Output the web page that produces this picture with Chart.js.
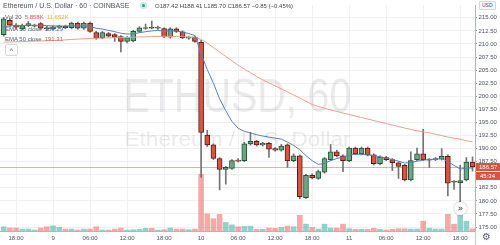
<!DOCTYPE html>
<html>
<head>
<meta charset="utf-8">
<script src="https://cdn.jsdelivr.net/npm/chart.js@4.4.1/dist/chart.umd.min.js"></script>
<style>
  html, body { margin: 0; padding: 0; background: #fff; }
  #wrap { position: relative; width: 500px; height: 245px; overflow: hidden;
          font-family: 'Liberation Sans', Arial, sans-serif; }
  #wrap canvas { position: absolute; left: 0; top: 0; }
  .lg { position: absolute; white-space: nowrap; line-height: 1; color: #5d606b; font-size: 6px; }
  .lg span { margin-left: 3px; }
  #mdot { position: absolute; left: 139.5px; top: 2px; width: 7px; height: 7px; border-radius: 50%;
          background: rgba(38,166,154,0.25); }
  #mdot::after { content: ''; position: absolute; left: 2px; top: 2px; width: 3px; height: 3px;
                 border-radius: 50%; background: #26a69a; }
  #collapse { position: absolute; left: 5px; top: 44px; width: 11px; height: 10px; border: 1px solid #d6d8de;
              border-radius: 2px; background: #fff; font-size: 7px; color: #555; text-align: center; line-height: 12px; }
  #usd { position: absolute; left: 479px; top: 1px; font-size: 5px; color: #50535e; padding: 1px 2px;
         border: 1px solid #d6d8de; border-radius: 1px; background: #f4f6fa; line-height: 1; }
  #gear { position: absolute; left: 482px; top: 232px; font-size: 10px; line-height: 1; color: #5d606b;
          font-family: 'DejaVu Sans', sans-serif; }
  #sep { position: absolute; left: 475px; top: 231px; width: 1px; height: 14px; background: #c9cbd1; }
  #jump { position: absolute; left: 454px; top: 202px; width: 13px; height: 13px; border-radius: 50%;
          background: #fff; box-shadow: 0 0 2px rgba(0,0,0,0.35); font-size: 9px; line-height: 12px;
          text-align: center; color: #333; font-family: 'DejaVu Sans', sans-serif; }
</style>
</head>
<body>
<div id="wrap">
  <canvas id="chart"></canvas>
  <div class="lg" style="left:3px;top:2px;font-size:7px;color:#50535e;">Ethereum / U.S. Dollar · 60 · COINBASE</div>
  <div id="mdot"></div>
  <div class="lg" id="ohlc" style="left:155px;top:2.5px;color:#3d3f45;"></div>
  <div class="lg" style="left:5px;top:14px;">Vol 20<span style="color:#ef5350">5.858K</span><span style="color:#e3b341">11.652K</span></div>
  <div class="lg" style="left:5px;top:25.5px;">EMA 10 close<span id="e10" style="color:#4a6fa5"></span></div>
  <div class="lg" style="left:5px;top:36px;">EMA 50 close<span id="e50" style="color:#b8675a"></span></div>
  <div id="collapse">^</div>
  <div id="usd">USD</div>
  <div id="jump">»</div>
  <div id="sep"></div>
  <div id="gear">⚙</div>
</div>
<script>
// hour index, 0 = 8th 18:00
const hours = Array.from({ length: 77 }, (_, i) => i - 2);

const opens = [
  211.8, 214.5, 213.6, 212.9, 213.5, 213.4, 213.9, 213.1, 212.9, 213.2,
  213.4, 213.1, 214.0, 213.0, 214.0, 212.2, 211.2, 212.0, 211.8, 211.4,
  210.5, 210.6, 212.4, 212.95, 213.15, 213.0, 212.95, 211.3, 212.9, 212.3,
  211.1, 211.3, 210.3, 192.6, 190.7, 188.1, 186.0, 186.2, 187.8, 187.7,
  190.9, 191.4, 190.7, 191.0, 190.0, 189.7, 190.7, 187.7, 188.6, 180.6,
  184.9, 184.3, 185.5, 187.9, 189.4, 188.6, 187.7, 190.1, 189.0, 190.1,
  188.8, 187.1, 188.3, 187.9, 187.3, 186.8, 184.0, 187.9, 189.0, 187.8,
  187.9, 188.0, 188.5, 183.7, 183.5, 184.0, 187.42
];
const closes = [
  214.8, 213.6, 213.2, 213.5, 213.9, 213.6, 213.0, 212.9, 213.3, 213.4,
  213.1, 214.0, 213.0, 214.0, 212.4, 211.1, 212.2, 211.5, 211.3, 210.5,
  211.2, 212.4, 213.1, 213.15, 213.0, 213.15, 211.4, 212.9, 212.4, 211.2,
  211.3, 210.5, 193.1, 190.7, 188.1, 186.0, 186.4, 187.7, 187.6, 190.9,
  191.4, 190.7, 191.0, 189.9, 189.7, 190.5, 187.7, 188.6, 180.8, 184.9,
  184.4, 185.6, 188.1, 189.4, 188.6, 187.7, 190.1, 189.0, 190.1, 188.8,
  187.1, 188.4, 187.9, 187.3, 186.6, 184.0, 187.7, 189.0, 187.9, 187.95,
  188.1, 188.5, 183.4, 183.6, 183.9, 187.42, 186.57
];
const highs = [
  215.1, 214.8, 213.9, 213.8, 214.3, 213.8, 214.1, 213.4, 213.5, 213.6,
  213.6, 214.2, 214.2, 214.2, 214.2, 212.4, 212.4, 212.2, 212.0, 211.6,
  211.4, 212.6, 213.3, 213.8, 214.4, 213.4, 213.1, 213.1, 213.1, 212.5,
  211.5, 211.5, 210.7, 193.5, 190.9, 188.3, 186.6, 187.9, 188.1, 191.2,
  193.1, 191.6, 191.2, 191.2, 190.2, 190.8, 190.9, 189.0, 188.8, 185.1,
  185.2, 185.9, 188.3, 190.8, 189.7, 188.8, 190.3, 190.3, 190.3, 190.3,
  189.0, 188.6, 188.5, 188.1, 187.5, 187.0, 189.4, 190.1, 193.7, 188.1,
  188.3, 190.0, 188.8, 183.9, 186.8, 188.3, 188.41
];
const lows = [
  211.5, 213.3, 212.9, 212.7, 213.3, 213.2, 212.8, 212.6, 212.7, 213.0,
  212.9, 212.9, 212.8, 212.8, 212.2, 210.9, 211.0, 211.3, 210.5, 208.5,
  210.2, 210.4, 212.2, 212.8, 212.9, 212.8, 211.2, 211.1, 212.2, 211.0,
  210.9, 210.3, 184.5, 190.4, 187.9, 182.1, 183.2, 186.0, 187.4, 187.5,
  190.7, 190.5, 190.5, 188.3, 189.5, 189.5, 186.4, 187.5, 180.4, 180.5,
  184.2, 184.1, 185.3, 187.7, 188.4, 185.6, 187.5, 188.8, 188.8, 188.6,
  186.9, 186.9, 187.7, 185.8, 184.3, 183.8, 183.8, 187.7, 187.7, 186.4,
  187.7, 187.8, 180.97, 182.2, 179.5, 183.8, 185.70
];
// volume, thousands
const volumes = [
  11.3, 7.9, 7.9, 5.2, 5.2, 2.6, 7.9, 11.3, 13.9, 9.7,
  5.2, 5.2, 2.6, 5.2, 5.2, 11.3, 2.6, 2.6, 5.2, 7.9,
  2.6, 3.4, 4.5, 7.1, 7.1, 2.6, 3.4, 7.9, 5.2, 5.2,
  3.4, 5.2, 152, 45.9, 32.8, 44.5, 22.8, 16.5, 11.3, 12.3,
  13.1, 4.5, 4.5, 7.9, 7.1, 9.7, 13.1, 11.3, 41.9, 18.3,
  9.7, 5.2, 18.3, 7.9, 7.9, 18.3, 6.0, 4.5, 4.5, 4.5,
  7.1, 4.5, 2.6, 4.5, 6.0, 6.0, 5.2, 5.2, 26.2, 7.1,
  5.2, 5.2, 44.5, 18.3, 41.9, 26.2, 5.858
];
const ema10 = [
  213.3, 213.45, 213.5, 213.5, 213.6, 213.55, 213.55, 213.5, 213.45, 213.45,
  213.4, 213.5, 213.4, 213.5, 213.35, 213.0, 212.85, 212.6, 212.35, 212.05,
  211.9, 211.95, 212.15, 212.35, 212.5, 212.6, 212.4, 212.5, 212.5, 212.25,
  212.0, 211.6, 208.1, 205.1, 202.5, 199.5, 197.25, 195.2, 193.9, 193.3,
  193.0, 192.65, 192.4, 192.2, 192.0, 191.8, 191.25, 190.6, 189.8, 188.65,
  187.7, 187.0, 187.15, 187.7, 188.1, 188.35, 188.75, 188.9, 188.9, 188.8,
  188.65, 188.45, 188.2, 187.9, 187.6, 187.25, 187.35, 187.6, 187.8, 187.9,
  188.0, 188.1, 187.5, 186.8, 186.1, 186.25, 186.29
];
const ema50 = [
  210.35, 210.38, 210.42, 210.46, 210.5, 210.54, 210.58, 210.62, 210.66, 210.7,
  210.78, 210.86, 210.93, 211.0, 211.06, 211.1, 211.13, 211.17, 211.2, 211.23,
  211.26, 211.29, 211.33, 211.37, 211.41, 211.44, 211.45, 211.44, 211.42, 211.39,
  211.34, 211.28, 210.89, 210.14, 209.3, 208.46, 207.62, 206.77, 205.93, 205.18,
  204.53, 203.78, 203.14, 202.56, 202.0, 201.42, 200.84, 200.26, 199.68, 199.05,
  198.43, 198.06, 197.72, 197.38, 197.1, 196.8, 196.52, 196.23, 195.94, 195.66,
  195.36, 195.08, 194.8, 194.5, 194.22, 193.93, 193.66, 193.4, 193.2, 193.0,
  192.75, 192.5, 192.2, 192.0, 191.8, 191.5, 191.31
];

const tickHours = [0, 6, 12, 18, 24, 30, 36, 42, 48, 54, 60, 66, 72];
const tickLabels = ['18:00', '9', '06:00', '12:00', '18:00', '10', '06:00', '12:00', '18:00', '11', '06:00', '12:00', '18:00'];
const priceTicks = [175, 177.5, 180, 182.5, 185, 187.5, 190, 192.5, 195, 197.5, 200, 202.5, 205, 207.5, 210, 212.5, 215];
const countdown = '45:34';

// legend texts from the data
const n = closes.length - 1;
const chg = closes[n] - closes[n - 1];
const pct = chg / closes[n - 1] * 100;
const fmt = v => v.toFixed(2).replace('-', '−');
document.getElementById('ohlc').innerHTML =
  'O' + opens[n].toFixed(2) + ' H' + highs[n].toFixed(2) + ' L' + lows[n].toFixed(2) +
  ' C' + closes[n].toFixed(2) + ' ' + fmt(chg) + ' (' + fmt(pct) + '%)';
document.getElementById('e10').textContent = ema10[n].toFixed(2);
document.getElementById('e50').textContent = ema50[n].toFixed(2);

const up = closes.map((c, i) => c >= opens[i]);

function drawFit(ctx, text, font, x, y, width) {
  ctx.font = font;
  const w = ctx.measureText(text).width;
  ctx.save();
  ctx.translate(x, y);
  ctx.scale(width / w, 1);
  ctx.fillText(text, 0, 0);
  ctx.restore();
}

const overlay = {
  id: 'overlay',
  beforeDatasetsDraw(chart) {
    const { ctx, chartArea: a, scales } = chart;
    const cx = (a.left + a.right) / 2;
    ctx.save();
    ctx.fillStyle = 'rgba(90, 92, 100, 0.13)';
    ctx.textAlign = 'center';
    ctx.textBaseline = 'alphabetic';
    drawFit(ctx, 'ETHUSD, 60', '48px "Liberation Sans", Arial', cx, 112, 228);
    drawFit(ctx, 'Ethereum / U.S. Dollar', '20px "Liberation Sans", Arial', cx, 146, 226);
    const py = Math.round(scales.y.getPixelForValue(closes[n])) + 0.5;
    ctx.strokeStyle = 'rgba(196, 150, 138, 0.7)';
    ctx.lineWidth = 1;
    ctx.beginPath();
    ctx.moveTo(a.left, py);
    ctx.lineTo(a.right, py);
    ctx.stroke();
    ctx.restore();
  },
  afterDraw(chart) {
    const { ctx, chartArea: a, scales } = chart;
    const py = Math.round(scales.y.getPixelForValue(closes[n]));
    ctx.save();
    ctx.fillStyle = '#d75442';
    ctx.fillRect(a.right + 1, py - 4, 24, 8);
    ctx.fillRect(a.right + 1, py + 5, 24, 8);
    ctx.fillStyle = '#fff';
    ctx.font = '6px "Liberation Sans", Arial';
    ctx.textAlign = 'left';
    ctx.textBaseline = 'middle';
    ctx.fillText(closes[n].toFixed(2), a.right + 4, py);
    ctx.fillText(countdown, a.right + 5, py + 9);
    ctx.restore();
  }
};

Chart.defaults.font.family = "'Liberation Sans', Arial, sans-serif";

new Chart(document.getElementById('chart'), {
  type: 'bar',
  data: {
    datasets: [
      {
        type: 'line', label: 'EMA 10', order: -1,
        data: hours.map((h, i) => ({ x: h, y: ema10[i] })),
        borderColor: '#5b80b2', borderWidth: 1, pointRadius: 0, tension: 0
      },
      {
        type: 'line', label: 'EMA 50', order: -1,
        data: hours.map((h, i) => ({ x: h, y: ema50[i] })),
        borderColor: '#e8a190', borderWidth: 1, pointRadius: 0, tension: 0
      },
      {
        label: 'body', order: 0, grouped: false,
        data: hours.map((h, i) => ({ x: h, y: [opens[i], closes[i]] })),
        barThickness: 5, borderWidth: 1, borderSkipped: false, minBarLength: 1,
        backgroundColor: up.map(u => u ? '#6ba583' : '#d75442'),
        borderColor: up.map(u => u ? '#225437' : '#5b1a13')
      },
      {
        label: 'wick', order: 1, grouped: false,
        data: hours.map((h, i) => ({ x: h, y: [lows[i], highs[i]] })),
        barThickness: 1, backgroundColor: '#737375'
      },
      {
        label: 'Vol', order: 3, grouped: false, yAxisID: 'yv',
        data: hours.map((h, i) => ({ x: h, y: volumes[i] })),
        barThickness: 5,
        backgroundColor: up.map(u => u ? 'rgba(38,166,154,0.5)' : 'rgba(239,83,80,0.5)')
      }
    ]
  },
  options: {
    responsive: true,
    maintainAspectRatio: false,
    animation: false,
    events: [],
    layout: { padding: 0 },
    plugins: { legend: { display: false }, tooltip: { enabled: false } },
    scales: {
      x: {
        type: 'linear',
        min: -2.6,
        max: 74.4,
        offset: false,
        grid: { offset: false, color: '#eef0f3', drawTicks: false },
        border: { color: '#b2b5be' },
        afterBuildTicks: s => { s.ticks = tickHours.map(v => ({ value: v })); },
        afterFit: s => { s.height = 14; },
        ticks: {
          autoSkip: false, maxRotation: 0, padding: 4,
          color: '#4c525e', font: { size: 6 },
          callback: v => tickLabels[tickHours.indexOf(v)] ?? ''
        }
      },
      y: {
        position: 'right',
        min: 174.25,
        max: 217.43,
        grid: { color: '#eef0f3', tickLength: 2, tickColor: '#9598a1' },
        border: { color: '#b2b5be' },
        afterBuildTicks: s => { s.ticks = priceTicks.map(v => ({ value: v })); },
        afterFit: s => { s.width = 25; },
        ticks: {
          autoSkip: false, padding: 1.5,
          color: '#4c525e', font: { size: 6 },
          callback: v => v.toFixed(2)
        }
      },
      yv: {
        display: false,
        min: 0,
        max: 605
      }
    }
  },
  plugins: [overlay]
});
</script>
</body>
</html>
